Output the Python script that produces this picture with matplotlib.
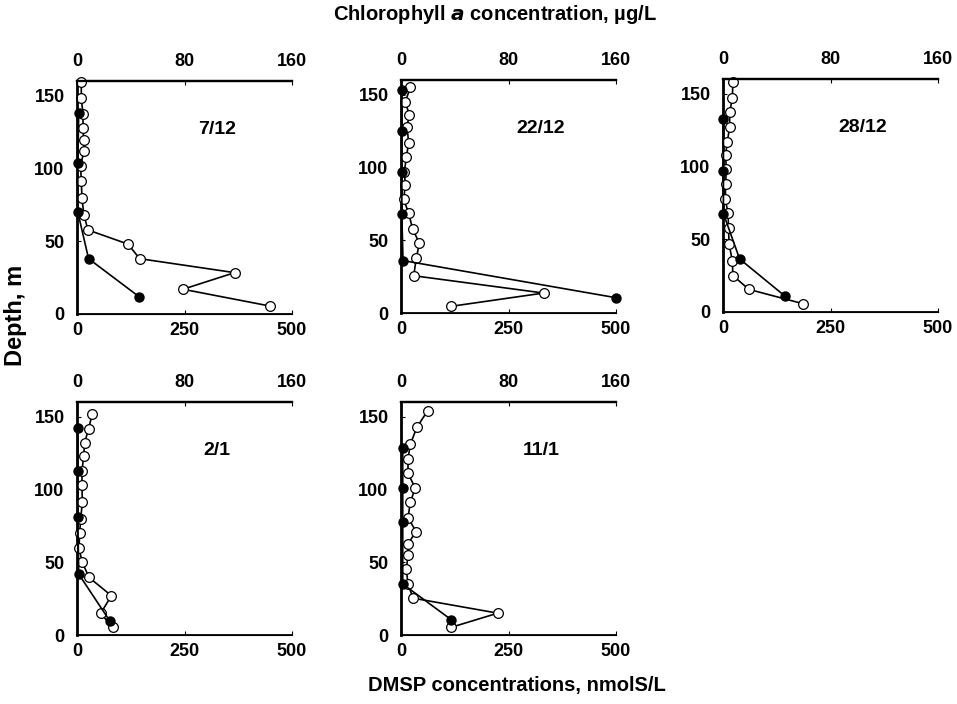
import matplotlib
matplotlib.use("Agg")
import matplotlib.pyplot as plt

plt.rcParams['font.family'] = ['Liberation Sans', 'DejaVu Sans']
plt.rcParams['font.weight'] = 'bold'

# dates of each profile
dates = ["7/12", "22/12", "28/12", "2/1", "11/1"]

# DMSP (open circles), nmolS/L, bottom axis
dmsp_depth = [
    [159, 148, 137, 127.5, 119.5, 112, 101.6, 91, 79.4, 68, 57.7, 48, 38, 28.4, 17, 5.5],
    [155, 145, 136, 128, 116.7, 107, 97, 88, 78, 68.6, 57.7, 48, 37.8, 25.6, 13.7, 4.6],
    [157.6, 147, 137, 127, 117, 107.5, 98, 87.7, 77.4, 68, 57.4, 46.7, 35.3, 25, 15.5, 5.7],
    [151.8, 141.8, 132, 122.8, 112.6, 102.7, 91, 79.5, 70, 59.6, 49.8, 39.5, 27, 14.8, 5.2],
    [154, 142.7, 131, 121, 111, 101, 91, 80.6, 71, 62.3, 54.8, 45, 35, 25.3, 15, 5.3],
]
dmsp_vals = [
    [10, 10, 14, 14, 15.5, 16, 8.5, 10, 11.6, 16, 25.6, 118.6, 145.7, 366.6, 246.5, 448],
    [21.7, 10, 19.4, 14, 17.8, 12.4, 7.8, 10, 6.2, 17.8, 27, 42.6, 35.7, 29.5, 331.7, 117],
    [23, 21.7, 15.5, 15.5, 10, 6, 7.8, 6, 5.4, 11.6, 13, 14, 21.7, 23, 60.5, 186],
    [35.7, 27, 17.8, 15.5, 11.6, 11.6, 12.4, 8.5, 6.2, 4.6, 12.4, 28, 80, 55, 83.7],
    [62, 37, 21.7, 16.3, 16.3, 33, 21.7, 16.3, 35, 15.5, 16.3, 12.4, 16.3, 28, 225, 117],
]

# Chlorophyll a (filled circles), ug/L, top axis
chl_depth = [
    [138, 104, 70, 38, 12],
    [153, 125, 97, 68, 36, 10.5],
    [132.6, 97, 67.6, 36.4, 10.7],
    [142, 112.6, 81, 41.8, 9.8],
    [128.5, 100.7, 77.9, 35, 10.5],
]
chl_vals = [
    [1.3, 0.6, 0.6, 8.6, 46],
    [0.6, 0.6, 0.6, 0.6, 1.5, 160],
    [0.3, 0.3, 0.3, 12.4, 46.4],
    [0.6, 0.6, 0.6, 1.3, 24.3],
    [1.3, 1.3, 1.3, 1.3, 37.4],
]

W, H = 957, 704
fig = plt.figure(figsize=(W / 100, H / 100), dpi=100)

# panel boxes in pixels: left, top
boxes = [(77, 81), (401, 80), (723, 79), (77, 402), (401, 402)]
pw, ph = 215, 233

for i, (l, t) in enumerate(boxes):
    ax = fig.add_axes([l / W, 1 - (t + ph) / H, pw / W, ph / H])
    ax.set_xlim(0, 500)
    ax.set_ylim(0, 160)
    ax.set_xticks([0, 250, 500])
    ax.set_yticks([0, 50, 100, 150])
    ax.spines['right'].set_visible(False)
    ax.spines['left'].set_linewidth(2)
    ax.spines['bottom'].set_linewidth(1.3)
    ax.spines['top'].set_linewidth(1.6)
    ax.tick_params(axis='x', direction='in', length=3, pad=6, labelsize=13)
    ax.tick_params(axis='y', direction='in', length=3, pad=9, labelsize=13)

    ax.plot(dmsp_vals[i], dmsp_depth[i], color='black', lw=1.2, marker='o',
            ms=7, mfc='white', mec='black', mew=0.9, clip_on=False, zorder=3)

    axt = ax.twiny()
    axt.set_xlim(0, 160)
    axt.set_xticks([0, 80, 160])
    axt.spines['right'].set_visible(False)
    axt.spines['top'].set_linewidth(1.6)
    axt.tick_params(axis='x', direction='in', length=3, pad=8, labelsize=13)
    axt.plot(chl_vals[i], chl_depth[i], color='black', lw=1.2, marker='o',
             ms=6.5, mfc='black', mec='black', clip_on=False, zorder=4)

    ax.text(0.65, 0.79, dates[i], transform=ax.transAxes, fontsize=14,
            fontweight='bold', ha='center', va='center')

fig.text(495 / W, 1 - 15 / H, "Chlorophyll $\\mathbf{\\mathit{a}}$ concentration, \u00b5g/L",
         ha='center', va='center', fontsize=14.5, fontweight='bold')
fig.text(517 / W, 1 - 686 / H, "DMSP concentrations, nmolS/L",
         ha='center', va='center', fontsize=14.5, fontweight='bold')
fig.text(16 / W, 1 - 315 / H, "Depth, m", rotation=90,
         ha='center', va='center', fontsize=17, fontweight='bold')

fig.savefig("out.png", dpi=100)
